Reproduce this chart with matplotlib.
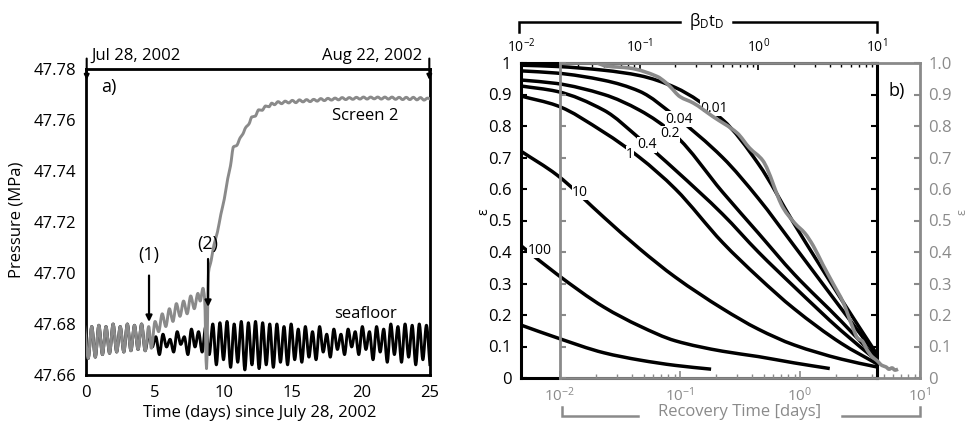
import numpy as np
import matplotlib
matplotlib.use("Agg")
import matplotlib.pyplot as plt
from matplotlib.path import Path
from matplotlib.patches import PathPatch
from matplotlib.lines import Line2D
from matplotlib.ticker import LogLocator, NullFormatter, FixedLocator, FixedFormatter

plt.rcParams['font.family'] = ['Open Sans', 'DejaVu Sans']
plt.rcParams['mathtext.fontset'] = 'custom'
plt.rcParams['mathtext.rm'] = 'Open Sans'
plt.rcParams['mathtext.it'] = 'Open Sans:italic'
plt.rcParams['mathtext.bf'] = 'Open Sans:bold'

# ---------------- panel a: pressure records ----------------
tide_period = 0.5175          # days, semidiurnal
first_high = -0.10            # day of first high water
first_low = 0.16              # day of first low water

seafloor_high = [47.6795, 47.679, 47.6795, 47.679, 47.680, 47.679, 47.680, 47.6795,
                 47.680, 47.676, 47.675, 47.676, 47.674, 47.677, 47.675, 47.678,
                 47.677, 47.679, 47.680, 47.6805, 47.681, 47.680, 47.681, 47.6805,
                 47.681, 47.6805, 47.680, 47.680, 47.679, 47.680, 47.678, 47.679,
                 47.677, 47.679, 47.676, 47.678, 47.676, 47.678, 47.677, 47.679,
                 47.677, 47.679, 47.678, 47.680, 47.679, 47.680, 47.6795, 47.680,
                 47.6795]
seafloor_low = [47.6665, 47.667, 47.668, 47.6685, 47.669, 47.669, 47.6695, 47.670,
                47.6695, 47.671, 47.668, 47.671, 47.669, 47.672, 47.668, 47.671,
                47.669, 47.668, 47.664, 47.666, 47.663, 47.665, 47.662, 47.664,
                47.6625, 47.664, 47.663, 47.665, 47.664, 47.666, 47.665, 47.667,
                47.666, 47.669, 47.667, 47.670, 47.668, 47.671, 47.668, 47.670,
                47.666, 47.669, 47.665, 47.668, 47.665, 47.667, 47.664, 47.666,
                47.6635]

# Screen 2 before the event follows the tide
screen2_high_pre = [47.6795, 47.679, 47.6795, 47.679, 47.680, 47.679, 47.680, 47.6795,
                    47.680, 47.679]
screen2_low_pre = [47.6665, 47.667, 47.668, 47.6685, 47.669, 47.669, 47.6695, 47.670,
                   47.6695]
# Screen 2 response: rise after (1), drop and recovery after (2)
screen2_event_days = [4.75, 5.02, 5.28, 5.54, 5.80, 6.06, 6.32, 6.57, 6.83, 7.09, 7.35,
                      7.61, 7.87, 8.13, 8.30, 8.50, 8.62, 8.76, 8.90, 9.10, 9.30, 9.55,
                      9.80, 10.05, 10.30, 10.50, 10.72, 10.95, 11.20, 11.40, 11.60,
                      11.85, 12.05, 12.30, 12.55, 12.80, 13.05, 13.30, 13.50]
screen2_event = [47.6705, 47.681, 47.677, 47.684, 47.679, 47.686, 47.681, 47.688,
                 47.683, 47.689, 47.684, 47.691, 47.686, 47.692, 47.689, 47.694,
                 47.690, 47.6625, 47.700, 47.705, 47.711, 47.716, 47.723, 47.729,
                 47.737, 47.742, 47.7495, 47.750, 47.753, 47.7545, 47.757, 47.7585,
                 47.7612, 47.7615, 47.7640, 47.7638, 47.7655, 47.7652, 47.7666]
plateau_start = 13.70
screen2_plateau = [47.7660, 47.7672, 47.7664, 47.7674, 47.7667, 47.7677, 47.7668,
                   47.7679, 47.7671, 47.7680, 47.7672, 47.7681, 47.7674, 47.7684,
                   47.7676, 47.7685, 47.7678, 47.7686, 47.7679, 47.7688, 47.7680,
                   47.7688, 47.7681, 47.7689, 47.7682, 47.7690, 47.7682, 47.7690,
                   47.7683, 47.7690, 47.7682, 47.7690, 47.7682, 47.7690, 47.7681,
                   47.7689, 47.7680, 47.7689, 47.7680, 47.7689, 47.7679, 47.7688,
                   47.7678, 47.7686, 47.7680]

# ---------------- panel b: recovery curves ----------------
beta_grid = [0.01, 0.02, 0.05, 0.1, 0.2, 0.5, 1.0, 2.0, 5.0, 10.0]
eps_001 = [0.993, 0.989, 0.977, 0.960, 0.922, 0.820, 0.680, 0.490, 0.250, 0.075]
eps_004 = [0.975, 0.968, 0.945, 0.910, 0.830, 0.700, 0.570, 0.420, 0.220, 0.070]
eps_02 = [0.946, 0.935, 0.900, 0.850, 0.770, 0.590, 0.460, 0.330, 0.180, 0.060]
eps_04 = [0.927, 0.910, 0.850, 0.760, 0.660, 0.520, 0.400, 0.290, 0.150, 0.055]
eps_1 = [0.895, 0.865, 0.780, 0.700, 0.600, 0.430, 0.320, 0.220, 0.110, 0.045]
eps_10 = [0.720, 0.645, 0.510, 0.410, 0.320, 0.220, 0.155, 0.105, 0.060, 0.035]
beta_100 = [0.01, 0.02, 0.05, 0.1, 0.2, 0.5, 1.0, 2.0, 4.0]
eps_100 = [0.420, 0.330, 0.225, 0.165, 0.118, 0.085, 0.068, 0.048, 0.030]
beta_1000 = [0.01, 0.02, 0.05, 0.1, 0.2, 0.4]
eps_1000 = [0.168, 0.128, 0.080, 0.057, 0.040, 0.028]

curve_labels = ['0.01', '0.04', '0.2', '0.4', '1', '10', '100']
label_beta = [0.423, 0.214, 0.180, 0.115, 0.083, 0.0315, 0.0143]
label_eps = [0.857, 0.822, 0.775, 0.740, 0.711, 0.590, 0.406]

recovery_days = [0.0204, 0.0245, 0.038, 0.0646, 0.075, 0.0827, 0.100, 0.129, 0.188,
                 0.299, 0.380, 0.490, 0.724, 0.912, 1.096, 1.288, 1.549, 1.884,
                 2.291, 2.754, 3.041, 3.289, 3.614, 3.981, 4.385, 4.819, 5.212,
                 5.521, 5.848, 6.194, 6.561]
recovery_eps = [1.000, 0.990, 0.984, 0.957, 0.940, 0.925, 0.893, 0.873, 0.830,
                0.778, 0.730, 0.690, 0.540, 0.490, 0.460, 0.420, 0.360, 0.300,
                0.240, 0.160, 0.125, 0.118, 0.090, 0.068, 0.055, 0.040, 0.035,
                0.028, 0.032, 0.025, 0.028]

GRAY = '#8a8a8a'
W, H = 969, 424


def px(x):
    return x / W


def py(y):
    return 1 - y / H


def smooth_line(ax, x, y, logx=False, **kw):
    """Draw a smooth monotone cubic Bezier curve through the given points."""
    x = np.asarray(x, float)
    y = np.asarray(y, float)
    u = np.log10(x) if logx else x
    du = np.diff(u)
    s = np.diff(y) / du
    m = np.zeros_like(y)
    m[0], m[-1] = s[0], s[-1]
    for i in range(1, len(y) - 1):
        if s[i - 1] * s[i] <= 0:
            m[i] = 0.0
        else:
            m[i] = 2.0 / (1.0 / s[i - 1] + 1.0 / s[i])
    verts = [(u[0], y[0])]
    codes = [Path.MOVETO]
    for i in range(len(y) - 1):
        h = du[i]
        verts += [(u[i] + h / 3, y[i] + m[i] * h / 3),
                  (u[i + 1] - h / 3, y[i + 1] - m[i + 1] * h / 3),
                  (u[i + 1], y[i + 1])]
        codes += [Path.CURVE4] * 3
    verts = np.array(verts)
    if logx:
        verts[:, 0] = 10 ** verts[:, 0]
    patch = PathPatch(Path(verts, codes), fill=False, capstyle='butt',
                      joinstyle='round', **kw)
    ax.add_patch(patch)
    return patch


def interleave(t_a, v_a, t_b, v_b):
    t = np.concatenate([t_a, t_b])
    v = np.concatenate([v_a, v_b])
    order = np.argsort(t)
    return t[order], v[order]


fig = plt.figure(figsize=(W / 100, H / 100), dpi=100)

# ======== panel a ========
axa = fig.add_axes([px(86), py(375), px(430) - px(86), py(69) - py(375)])
axa.set_xlim(0, 25)
axa.set_ylim(47.66, 47.78)

t_high = first_high + tide_period * np.arange(len(seafloor_high))
t_low = first_low + tide_period * np.arange(len(seafloor_low))
t_sea, v_sea = interleave(t_high, seafloor_high, t_low, seafloor_low)
smooth_line(axa, t_sea, v_sea, color='black', lw=2.1, zorder=2)

t_hp = first_high + tide_period * np.arange(len(screen2_high_pre))
t_lp = first_low + tide_period * np.arange(len(screen2_low_pre))
t_pre, v_pre = interleave(t_hp, screen2_high_pre, t_lp, screen2_low_pre)
t_plat = plateau_start + 0.5 * tide_period * np.arange(len(screen2_plateau))
t_s2 = np.concatenate([t_pre, screen2_event_days, t_plat])
v_s2 = np.concatenate([v_pre, screen2_event, screen2_plateau])
smooth_line(axa, t_s2, v_s2, color=GRAY, lw=2.1, zorder=3)

axa.set_xticks([0, 5, 10, 15, 20, 25])
axa.set_yticks([47.66, 47.68, 47.70, 47.72, 47.74, 47.76, 47.78])
axa.set_yticklabels(['47.66', '47.68', '47.70', '47.72', '47.74', '47.76', '47.78'])
axa.tick_params(axis='both', length=0, labelsize=12)
axa.tick_params(axis='y', pad=7)
axa.tick_params(axis='x', pad=7)
for sp in axa.spines.values():
    sp.set_linewidth(2.0)

axa.text(0.045, 0.94, 'a)', transform=axa.transAxes, fontsize=13, ha='left', va='center')
axa.text(20.3, 47.7616, 'Screen 2', fontsize=12, ha='center', va='center')
axa.text(20.3, 47.6840, 'seafloor', fontsize=12, ha='center', va='center')

arrow_kw = dict(arrowstyle='-|>', color='black', lw=1.6, mutation_scale=9,
                shrinkA=0, shrinkB=0)
axa.annotate('', xy=(4.58, 47.6808), xytext=(4.58, 47.699), arrowprops=arrow_kw)
axa.text(4.58, 47.707, '(1)', fontsize=13, ha='center', va='center')
axa.annotate('', xy=(8.87, 47.6867), xytext=(8.87, 47.7055), arrowprops=arrow_kw)
axa.text(8.87, 47.7112, '(2)', fontsize=13, ha='center', va='center')

date_kw = dict(arrowstyle='-|>', color='black', lw=1.5, mutation_scale=7,
               shrinkA=0, shrinkB=0)
axa.annotate('', xy=(0.05, 47.7757), xytext=(0.05, 47.7841), arrowprops=date_kw,
             annotation_clip=False)
axa.annotate('', xy=(24.95, 47.7757), xytext=(24.95, 47.7841), arrowprops=date_kw,
             annotation_clip=False)
fig.text(px(91), py(56), 'Jul 28, 2002', fontsize=12, ha='left', va='center')
fig.text(px(422), py(56), 'Aug 22, 2002', fontsize=12, ha='right', va='center')

fig.text(px(17), py(220), 'Pressure (MPa)', fontsize=12, rotation=90,
         ha='center', va='center')
fig.text(px(260), py(413), 'Time (days) since July 28, 2002', fontsize=12,
         ha='center', va='center')

# ======== panel b: model curves (black axes) ========
axb = fig.add_axes([px(521), py(378), px(877) - px(521), py(63) - py(378)])
axb.set_xscale('log')
axb.set_xlim(1e-2, 1e1)
axb.set_ylim(0, 1)

for eps in (eps_001, eps_004, eps_02, eps_04, eps_1, eps_10):
    smooth_line(axb, beta_grid, eps, logx=True, color='black', lw=2.5, zorder=2)
smooth_line(axb, beta_100, eps_100, logx=True, color='black', lw=2.5, zorder=2)
smooth_line(axb, beta_1000, eps_1000, logx=True, color='black', lw=2.5, zorder=2)

for lab, bx, ey in zip(curve_labels, label_beta, label_eps):
    axb.text(bx, ey, lab, fontsize=10, ha='center', va='center', zorder=4,
             bbox=dict(facecolor='white', edgecolor='none', pad=0.1))

axb.xaxis.tick_top()
axb.xaxis.set_major_locator(LogLocator(base=10, numticks=10))
axb.xaxis.set_minor_locator(LogLocator(base=10, subs=np.arange(2, 10), numticks=20))
axb.xaxis.set_minor_formatter(NullFormatter())
axb.tick_params(axis='x', which='both', direction='in', top=True, bottom=False,
                labeltop=True, labelbottom=False, color='black', labelsize=10, pad=5)
axb.tick_params(axis='x', which='major', length=5, width=1.2)
axb.tick_params(axis='x', which='minor', length=3, width=1.0)
ytk = np.round(np.arange(0, 1.01, 0.1), 1)
axb.yaxis.set_major_locator(FixedLocator(ytk))
axb.yaxis.set_major_formatter(FixedFormatter(['0'] + ['%.1f' % v for v in ytk[1:-1]] + ['1']))
axb.tick_params(axis='y', direction='in', left=True, right=True, length=4, width=1.5,
                labelsize=12, pad=7)
for sp in axb.spines.values():
    sp.set_linewidth(2.2)

# ======== panel b: observed recovery (gray axes) ========
axg = fig.add_axes([px(560), py(378), px(920) - px(560), py(63) - py(378)])
axg.patch.set_alpha(0)
axg.set_xscale('log')
axg.set_xlim(1e-2, 1e1)
axg.set_ylim(0, 1)
smooth_line(axg, recovery_days, recovery_eps, logx=True, color=GRAY, lw=2.6, zorder=3)

axg.xaxis.set_major_locator(LogLocator(base=10, numticks=10))
axg.xaxis.set_minor_locator(LogLocator(base=10, subs=np.arange(2, 10), numticks=20))
axg.xaxis.set_minor_formatter(NullFormatter())
axg.tick_params(axis='x', which='both', direction='in', bottom=True, top=False,
                colors=GRAY, labelsize=11, pad=6)
axg.tick_params(axis='x', which='major', length=5, width=1.2)
axg.tick_params(axis='x', which='minor', length=3, width=1.0)
axg.yaxis.set_major_locator(FixedLocator(ytk))
axg.yaxis.set_major_formatter(FixedFormatter(['0'] + ['%.1f' % v for v in ytk[1:]]))
axg.tick_params(axis='y', direction='in', left=True, right=True, labelleft=False,
                labelright=True, length=4, width=1.5, colors=GRAY, labelsize=12, pad=6)
for sp in axg.spines.values():
    sp.set_linewidth(2.0)
    sp.set_color(GRAY)

axg.text(0.935, 0.91, 'b)', transform=axg.transAxes, fontsize=13, ha='center', va='center')

# axis captions with brackets
def bracket(xs, ys, color):
    fig.add_artist(Line2D([px(x) for x in xs], [py(y) for y in ys],
                          transform=fig.transFigure, color=color, lw=1.8,
                          solid_joinstyle='miter'))

bracket([519, 519, 680], [32, 22, 22], 'black')
bracket([733, 877, 877], [22, 22, 32], 'black')
fig.text(px(707), py(21), r'β$_{\mathregular{D}}$t$_{\mathregular{D}}$', fontsize=12,
         ha='center', va='center')

bracket([562, 562, 638], [407, 416, 416], GRAY)
bracket([842, 920, 920], [416, 416, 407], GRAY)
fig.text(px(740), py(412), 'Recovery Time [days]', fontsize=12, color=GRAY,
         ha='center', va='center')

fig.text(px(484), py(212), 'ε', fontsize=10, rotation=90, ha='center', va='center')
fig.text(px(962), py(212), 'ε', fontsize=9, rotation=90, color=GRAY,
         ha='center', va='center')

fig.savefig('out.png', dpi=100)
